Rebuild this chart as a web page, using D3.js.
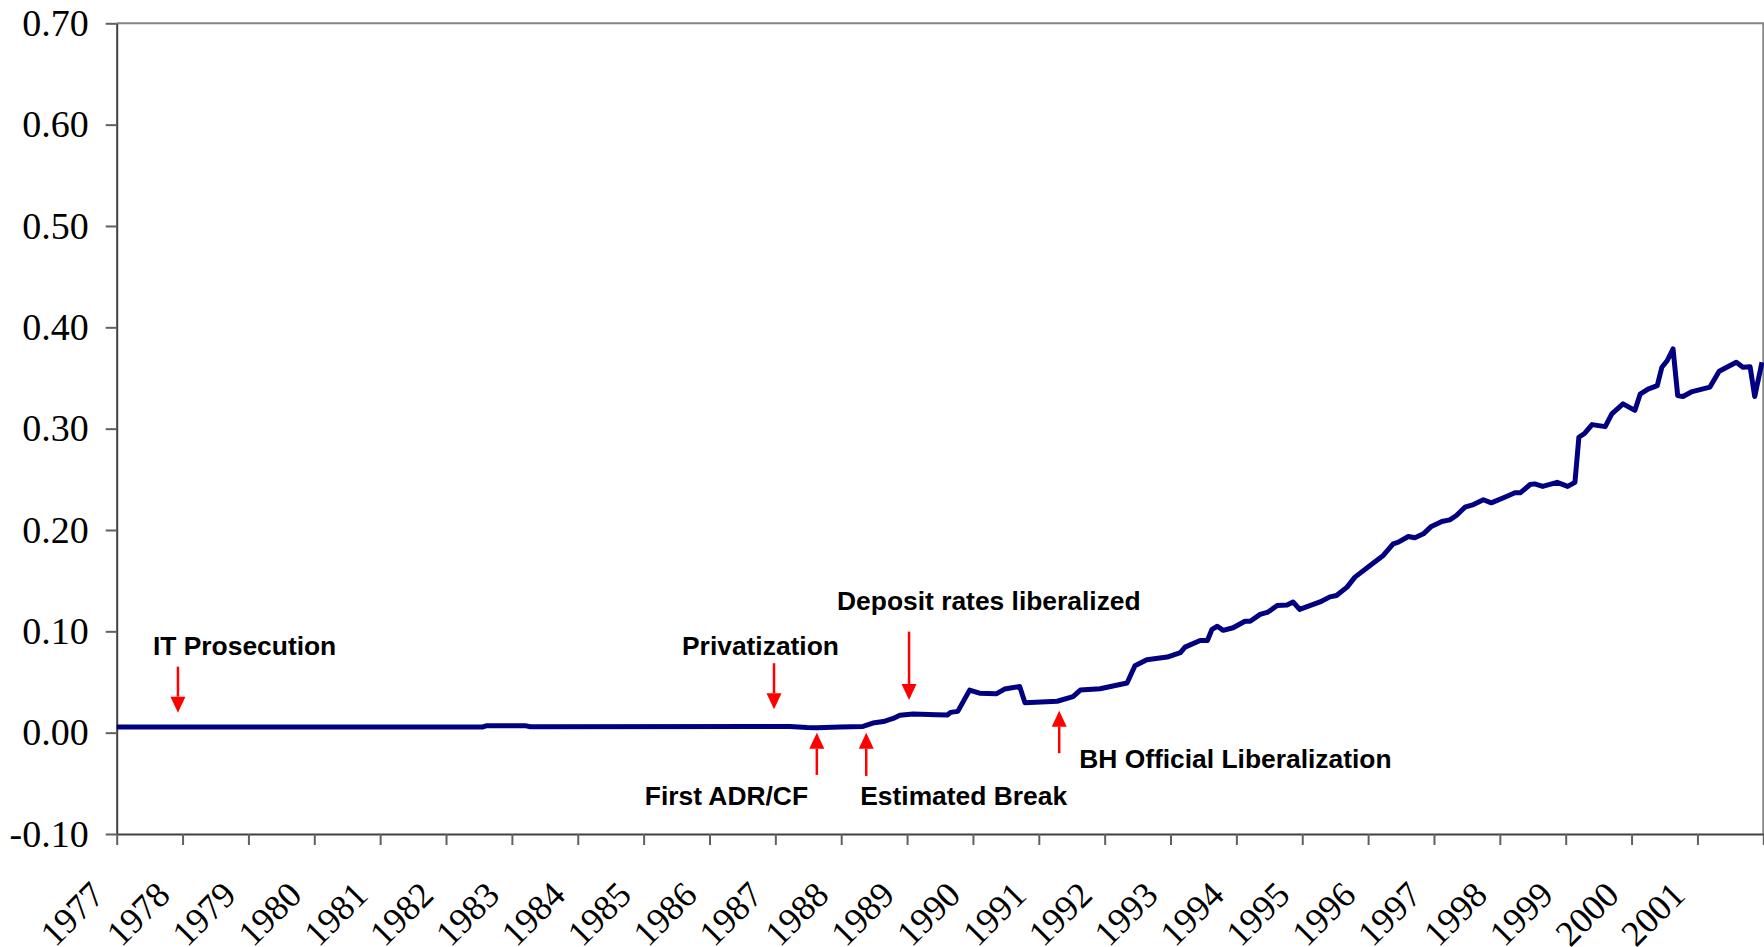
<!DOCTYPE html>
<html>
<head>
<meta charset="utf-8">
<script src="https://cdn.jsdelivr.net/npm/d3@7"></script>
<style>
  body { margin: 0; background: #fff; }
  svg { display: block; }
</style>
</head>
<body>
<div class="myChart"></div>
<script>
//Series: date (decimal year) and value
var seriesDates = [1977.00, 1982.55, 1982.62, 1983.20, 1983.28, 1986.96, 1987.22, 1987.48, 1987.63, 1987.98,
    1988.33, 1988.48, 1988.64, 1988.79, 1988.89, 1989.09, 1989.45, 1989.61, 1989.66, 1989.77,
    1989.95, 1990.10, 1990.36, 1990.48, 1990.71, 1990.79, 1991.28, 1991.52, 1991.63, 1991.93,
    1992.34, 1992.46, 1992.64, 1992.95, 1993.15, 1993.22, 1993.45, 1993.56, 1993.63, 1993.71,
    1993.80, 1993.95, 1994.13, 1994.21, 1994.36, 1994.48, 1994.62, 1994.77, 1994.86, 1994.96,
    1995.27, 1995.42, 1995.52, 1995.68, 1995.80, 1996.03, 1996.23, 1996.38, 1996.46, 1996.61,
    1996.71, 1996.84, 1996.96, 1997.12, 1997.24, 1997.34, 1997.47, 1997.60, 1997.75, 1997.87,
    1998.10, 1998.23, 1998.31, 1998.46, 1998.53, 1998.65, 1998.87, 1999.03, 1999.14, 1999.20,
    1999.29, 1999.40, 1999.60, 1999.70, 1999.87, 2000.05, 2000.13, 2000.25, 2000.39, 2000.46,
    2000.54, 2000.63, 2000.70, 2000.78, 2000.92, 2001.19, 2001.33, 2001.59, 2001.69, 2001.80,
    2001.87, 2001.98];
var seriesValues = [0.0055, 0.0055, 0.0069, 0.0069, 0.0058, 0.0060, 0.0060, 0.0050, 0.0048, 0.0056,
    0.0062, 0.0095, 0.0110, 0.0140, 0.0172, 0.0185, 0.0177, 0.0175, 0.0200, 0.0210,
    0.0420, 0.0390, 0.0385, 0.0430, 0.0455, 0.0295, 0.0310, 0.0355, 0.0420, 0.0434,
    0.0490, 0.0660, 0.0720, 0.0746, 0.0790, 0.0844, 0.0910, 0.0910, 0.1020, 0.1050,
    0.1010, 0.1035, 0.1100, 0.1100, 0.1167, 0.1190, 0.1255, 0.1260, 0.1290, 0.1216,
    0.1290, 0.1340, 0.1354, 0.1436, 0.1535, 0.1650, 0.1749, 0.1864, 0.1880, 0.1936,
    0.1923, 0.1962, 0.2035, 0.2084, 0.2100, 0.2143, 0.2225, 0.2251, 0.2298, 0.2268,
    0.2330, 0.2367, 0.2367, 0.2449, 0.2455, 0.2430, 0.2470, 0.2430, 0.2470, 0.2915,
    0.2955, 0.3040, 0.3020, 0.3146, 0.3245, 0.3180, 0.3340, 0.3390, 0.3425, 0.3606,
    0.3670, 0.3787, 0.3326, 0.3317, 0.3366, 0.3410, 0.3566, 0.3655, 0.3606, 0.3610,
    0.3317, 0.3655];

//Axis ticks and labels
var yearTicks = [1977, 1978, 1979, 1980, 1981, 1982, 1983, 1984, 1985, 1986, 1987, 1988, 1989,
    1990, 1991, 1992, 1993, 1994, 1995, 1996, 1997, 1998, 1999, 2000, 2001, 2002];
var yearLabels = ["1977", "1978", "1979", "1980", "1981", "1982", "1983", "1984", "1985", "1986",
    "1987", "1988", "1989", "1990", "1991", "1992", "1993", "1994", "1995", "1996", "1997",
    "1998", "1999", "2000", "2001", ""];
var yTicks = [-0.10, 0.00, 0.10, 0.20, 0.30, 0.40, 0.50, 0.60, 0.70];
var yLabels = ["-0.10", "0.00", "0.10", "0.20", "0.30", "0.40", "0.50", "0.60", "0.70"];

//Events: label, date, arrow tip value, arrow tail value
var eventNames = ["IT Prosecution", "Privatization", "First ADR/CF", "Estimated Break",
    "Deposit rates liberalized", "BH Official Liberalization"];
var eventDates = [1977.93, 1986.98, 1987.63, 1988.38, 1989.03, 1991.31];
var eventTips = [0.0197, 0.0231, 0.0000, 0.0000, 0.0323, 0.0217];
var eventTails = [0.0651, 0.0685, -0.0417, -0.0427, 0.0997, -0.0203];

//Label offsets from the arrow tail (pixels)
var labelOffsets = [[-25, -12], [-92, -8], [-172, 30], [-6, 29], [-72, -22], [20, 15]];

//Canvas Size
var width = 1764;
var height = 947;
var margin = { top: 23.3, right: 0.7, bottom: 113, left: 116.7 };
var innerWidth = width - margin.left - margin.right;
var innerHeight = height - margin.top - margin.bottom;

//Scales
var xScale = d3.scaleLinear()
    .domain([1977, 2002])
    .range([0, innerWidth]);
var yScale = d3.scaleLinear()
    .domain([-0.10, 0.70])
    .range([innerHeight, 0]);

var svg = d3.select(".myChart").append("svg")
    .attr("width", width)
    .attr("height", height);

var g = svg.append("g")
    .attr("transform", "translate(" + margin.left + "," + margin.top + ")");

//Plot area border (top and right)
g.append("path")
    .attr("d", "M0,0H" + innerWidth + "V" + innerHeight)
    .attr("fill", "none")
    .attr("stroke", "#858585")
    .attr("stroke-width", 2);

//Y axis
var yAxis = d3.axisLeft(yScale)
    .tickValues(yTicks)
    .tickFormat(function(d, i) { return yLabels[i]; })
    .tickSize(11)
    .tickSizeOuter(0)
    .tickPadding(17);

var yG = g.append("g")
    .attr("class", "vAxis")
    .call(yAxis);
yG.select(".domain").attr("stroke", "#404040").attr("stroke-width", 2);
yG.selectAll(".tick line").attr("stroke", "#606060").attr("stroke-width", 2);
yG.selectAll(".tick text")
    .attr("fill", "#000")
    .style("font-family", "'Liberation Serif', 'Times New Roman', serif")
    .style("font-size", "38px");

//X axis
var xAxis = d3.axisBottom(xScale)
    .tickValues(yearTicks)
    .tickFormat(function(d, i) { return yearLabels[i]; })
    .tickSize(11)
    .tickSizeOuter(0);

var xG = g.append("g")
    .attr("class", "hAxis")
    .attr("transform", "translate(0," + innerHeight + ")")
    .call(xAxis);
xG.select(".domain").attr("stroke", "#404040").attr("stroke-width", 2);
xG.selectAll(".tick line").attr("stroke", "#606060").attr("stroke-width", 2);
xG.selectAll(".tick text")
    .attr("fill", "#000")
    .attr("x", 0)
    .attr("y", 0)
    .attr("dy", 0)
    .attr("text-anchor", "end")
    .attr("transform", "translate(-11,63) rotate(-45)")
    .style("font-family", "'Liberation Serif', 'Times New Roman', serif")
    .style("font-size", "36px");

//Series line
var series = seriesDates.map(function(d, i) { return [d, seriesValues[i]]; });
var line = d3.line()
    .x(function(d) { return xScale(d[0]); })
    .y(function(d) { return yScale(d[1]); });

g.append("path")
    .datum(series)
    .attr("d", line)
    .attr("fill", "none")
    .attr("stroke", "#000080")
    .attr("stroke-width", 5)
    .attr("stroke-linejoin", "round");

//Event arrows and labels
var headLen = 16;
var headHalf = 7.5;

eventNames.forEach(function(name, i) {
    var x = xScale(eventDates[i]);
    var tipY = yScale(eventTips[i]);
    var tailY = yScale(eventTails[i]);
    var dir = tipY > tailY ? 1 : -1;
    var baseY = tipY - dir * headLen;

    g.append("line")
        .attr("x1", x).attr("x2", x)
        .attr("y1", tailY).attr("y2", baseY)
        .attr("stroke", "#ff0000")
        .attr("stroke-width", 2.5);

    g.append("path")
        .attr("d", "M" + (x - headHalf) + "," + baseY + "L" + (x + headHalf) + "," + baseY + "L" + x + "," + tipY + "Z")
        .attr("fill", "#ff0000");

    g.append("text")
        .attr("x", x + labelOffsets[i][0])
        .attr("y", tailY + labelOffsets[i][1])
        .attr("fill", "#000")
        .style("font-family", "'Liberation Sans', Arial, sans-serif")
        .style("font-weight", "bold")
        .style("font-size", "26.4px")
        .text(name);
});
</script>
</body>
</html>
